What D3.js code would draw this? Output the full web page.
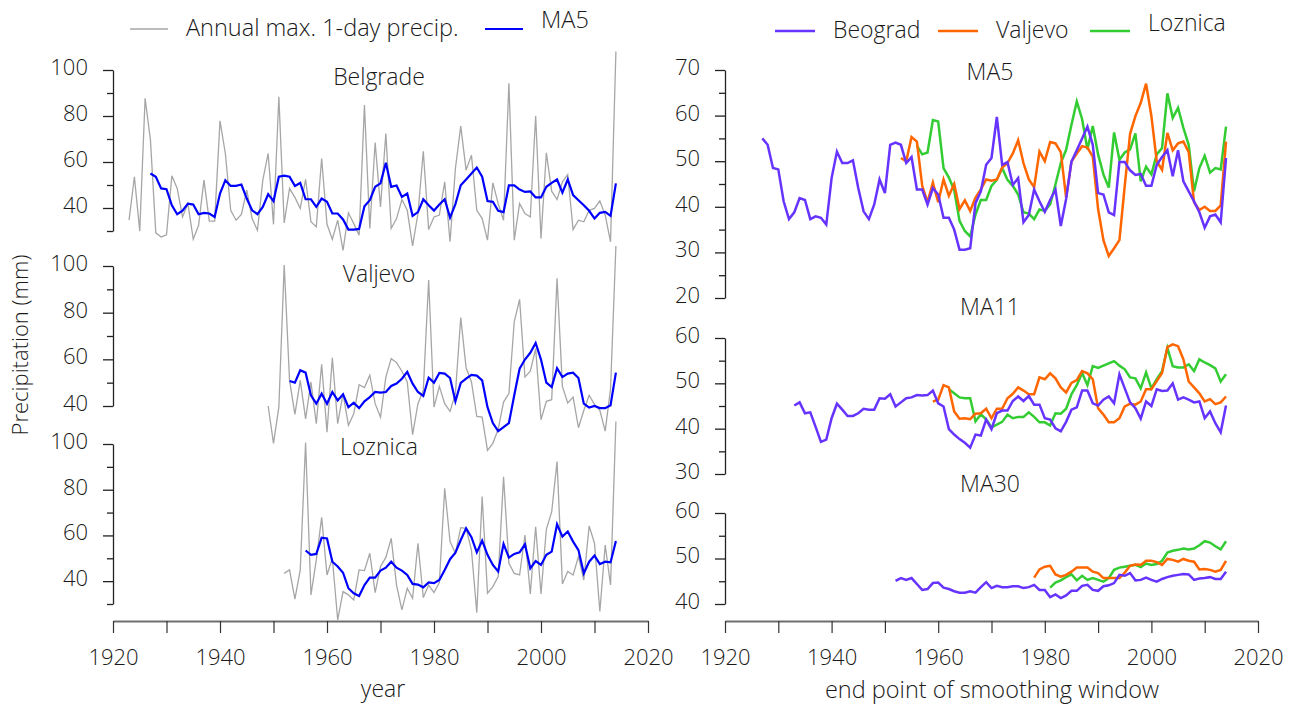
<!DOCTYPE html>
<html>
<head>
<meta charset="utf-8">
<script src="https://cdn.jsdelivr.net/npm/d3@7"></script>
<style>
  body { margin: 0; background: #fff; }
  text { font-family: "Open Sans", "Noto Sans", sans-serif; font-weight: 300; fill: #1a1a1a; }
</style>
</head>
<body>
<div id="chart"></div>
<script>
// --- data: annual maximum 1-day precipitation (mm) and moving averages
const belgradeStart = 1923;
const belgradeAnnual = [34.7, 53.6, 29.9, 87.7, 69.5, 29.2, 27.4, 28.3, 54.0, 48.5,
  36.1, 41.9, 26.4, 32.5, 52.1, 34.3, 34.3, 77.9, 63.7, 39.0,
  34.7, 37.2, 47.8, 35.4, 30.3, 52.1, 63.7, 32.9, 88.4, 33.5,
  48.5, 44.6, 39.8, 52.5, 34.0, 31.8, 61.5, 32.9, 26.4, 34.7,
  21.6, 37.9, 33.2, 28.2, 84.8, 31.1, 68.5, 40.5, 72.4, 31.1,
  35.4, 43.7, 39.0, 23.5, 37.6, 64.7, 30.6, 36.1, 36.9, 51.4,
  25.3, 57.2, 75.6, 56.5, 63.0, 39.0, 35.4, 26.0, 50.9, 41.9,
  34.7, 94.2, 26.0, 41.9, 37.6, 36.1, 80.1, 26.7, 64.0, 47.3,
  43.7, 51.4, 54.6, 30.6, 34.7, 34.0, 39.0, 39.8, 43.1, 36.9,
  25.3, 108.0];
const belgradeMA5Start = 1927;
const belgradeMA5 = [55.0, 53.6, 48.5, 48.2, 41.2, 37.3, 38.8, 41.9, 41.5, 37.3,
  37.9, 37.6, 36.1, 46.3, 52.1, 49.6, 49.6, 50.2, 44.1, 39.0,
  37.3, 40.5, 46.0, 43.0, 53.6, 54.1, 53.6, 49.6, 50.9, 43.8,
  43.8, 40.5, 44.1, 42.7, 37.6, 37.6, 35.0, 30.6, 30.6, 30.9,
  40.8, 43.4, 49.2, 50.7, 59.7, 49.2, 49.8, 44.8, 46.3, 36.6,
  38.2, 43.8, 41.2, 38.9, 41.5, 43.8, 35.8, 41.7, 49.9, 52.4,
  55.0, 57.6, 53.6, 43.0, 42.7, 38.8, 38.2, 49.8, 49.8, 48.0,
  47.0, 47.2, 44.6, 44.6, 49.2, 50.9, 52.4, 46.7, 52.4, 45.6,
  43.4, 41.2, 38.8, 35.4, 37.9, 38.3, 36.6, 50.7];

const valjevoStart = 1949;
const valjevoAnnual = [40.0, 24.0, 39.5, 100.4, 51.0, 36.4, 51.0, 34.5, 50.3, 32.4,
  57.9, 28.8, 60.7, 32.4, 45.3, 31.7, 36.7, 49.1, 47.9, 53.2,
  41.0, 35.2, 52.4, 60.3, 58.6, 54.9, 50.3, 27.7, 41.0, 46.7,
  94.0, 39.5, 48.4, 41.0, 37.7, 45.3, 77.9, 56.4, 50.3, 35.5,
  35.2, 21.0, 24.0, 30.0, 41.7, 45.3, 76.1, 85.7, 52.4, 54.9,
  64.6, 34.1, 42.0, 42.7, 94.7, 48.4, 41.3, 43.8, 30.7, 38.1,
  44.6, 40.7, 38.1, 29.2, 47.4, 108.6];
const valjevoMA5Start = 1953;
const valjevoMA5 = [50.7, 50.0, 55.3, 54.3, 44.6, 41.0, 45.3, 41.0, 46.0, 42.4,
  45.0, 39.5, 41.4, 39.1, 42.0, 43.8, 46.0, 45.7, 46.0, 48.6,
  49.6, 51.7, 54.6, 49.6, 46.0, 44.3, 52.1, 50.0, 54.2, 53.9,
  52.0, 42.0, 49.9, 51.7, 53.3, 53.0, 51.0, 39.5, 32.7, 29.2,
  30.9, 32.7, 44.6, 56.0, 59.9, 62.8, 67.0, 59.9, 50.0, 48.1,
  56.2, 52.4, 53.9, 54.3, 52.0, 41.0, 39.3, 40.0, 39.1, 39.1,
  40.3, 54.3];

const loznicaStart = 1952;
const loznicaAnnual = [43.4, 44.9, 32.1, 44.9, 100.6, 34.0, 49.3, 67.9, 42.7, 50.0,
  23.0, 35.4, 34.0, 31.8, 44.9, 44.6, 52.2, 35.0, 46.4, 50.4,
  58.7, 38.3, 27.4, 36.9, 32.5, 56.6, 32.8, 38.3, 35.0, 39.4,
  80.6, 57.3, 52.2, 63.4, 63.1, 53.6, 26.2, 77.0, 34.7, 37.6,
  42.0, 85.7, 47.8, 43.4, 42.7, 60.2, 34.4, 63.8, 34.4, 62.7,
  70.4, 92.3, 38.8, 44.2, 42.7, 50.7, 40.5, 64.1, 56.6, 26.7,
  55.8, 38.3, 109.8];
const loznicaMA5Start = 1956;
const loznicaMA5 = [53.4, 51.5, 51.9, 59.0, 58.7, 48.5, 46.4, 43.7, 36.9, 34.7,
  33.5, 38.3, 41.5, 41.5, 44.6, 45.9, 48.5, 45.9, 44.6, 42.7,
  38.8, 38.5, 37.3, 39.4, 39.1, 40.5, 44.9, 49.6, 52.5, 58.0,
  63.1, 59.2, 52.6, 57.7, 51.5, 47.1, 44.2, 56.3, 50.3, 51.9,
  52.6, 56.1, 45.6, 48.8, 47.1, 51.5, 52.9, 64.9, 59.5, 61.7,
  57.3, 53.6, 43.4, 48.5, 51.2, 47.5, 48.5, 48.2, 57.6];

const beogradMA11Start = 1933;
const beogradMA11 = [45.1, 45.8, 43.4, 43.6, 40.4, 37.1, 37.6, 42.3, 45.5, 44.2,
  42.8, 42.8, 43.4, 44.4, 44.2, 44.2, 46.7, 46.6, 47.6, 44.9,
  45.8, 46.7, 46.9, 47.4, 47.3, 47.4, 48.4, 45.6, 44.9, 39.9,
  38.7, 37.7, 36.9, 35.8, 38.7, 38.5, 42.0, 39.9, 43.4, 44.0,
  44.0, 46.1, 47.1, 46.1, 47.2, 45.3, 45.3, 42.3, 42.0, 40.1,
  39.4, 41.5, 44.2, 44.7, 48.4, 48.4, 45.6, 45.1, 46.4, 47.1,
  45.6, 52.0, 48.9, 45.8, 44.5, 42.2, 46.0, 45.0, 48.7, 48.3,
  48.4, 50.0, 46.4, 46.9, 46.4, 45.8, 46.0, 42.3, 43.8, 41.2,
  39.2, 45.1];
const valjevoMA11Start = 1959;
const valjevoMA11 = [46.0, 46.4, 49.6, 49.1, 43.8, 42.2, 42.3, 42.1, 43.3, 43.4,
  44.4, 42.3, 44.4, 44.4, 46.7, 47.7, 49.1, 48.4, 47.6, 47.6,
  51.3, 50.9, 52.2, 51.1, 49.1, 48.0, 50.1, 50.7, 52.7, 52.2,
  50.9, 44.5, 43.1, 41.4, 41.4, 42.3, 44.9, 45.5, 45.3, 46.0,
  48.7, 48.7, 50.5, 52.3, 58.0, 58.6, 58.2, 55.3, 50.4, 49.1,
  47.8, 46.0, 46.5, 45.4, 45.8, 47.1];
const loznicaMA11Start = 1962;
const loznicaMA11 = [48.7, 47.8, 46.9, 46.7, 46.7, 41.6, 43.2, 42.0, 40.3, 40.9,
  41.5, 43.1, 42.3, 42.6, 42.6, 43.6, 42.6, 41.4, 41.4, 40.7,
  43.4, 43.3, 44.4, 47.6, 49.6, 52.3, 49.6, 53.8, 53.4, 53.9,
  54.4, 54.9, 53.9, 53.1, 51.3, 51.1, 48.9, 52.4, 48.9, 50.9,
  52.7, 57.8, 53.8, 53.5, 53.5, 54.2, 52.7, 55.3, 54.6, 54.0,
  53.3, 50.4, 52.0];

const beogradMA30Start = 1952;
const beogradMA30 = [45.1, 45.7, 45.3, 45.7, 44.4, 43.1, 43.3, 44.6, 44.7, 43.6,
  43.3, 42.8, 42.5, 42.5, 42.8, 42.5, 43.7, 44.8, 43.5, 44.0,
  43.7, 43.7, 43.9, 43.9, 43.5, 43.7, 44.2, 43.1, 43.1, 41.5,
  42.1, 41.3, 41.9, 42.9, 42.9, 44.0, 44.2, 43.1, 42.9, 43.9,
  44.1, 44.6, 46.4, 46.2, 46.8, 45.2, 45.3, 45.8, 45.3, 44.9,
  45.5, 45.9, 46.2, 46.4, 46.6, 46.5, 45.3, 45.6, 45.7, 45.9,
  45.5, 45.5, 47.1];
const valjevoMA30Start = 1978;
const valjevoMA30 = [45.8, 47.6, 48.2, 48.4, 46.5, 46.0, 46.4, 47.1, 48.0, 48.0,
  48.0, 47.1, 46.8, 45.7, 45.7, 45.7, 45.7, 46.9, 48.4, 48.7,
  48.6, 49.5, 49.5, 49.2, 48.6, 49.9, 49.7, 49.3, 49.9, 49.5,
  49.3, 47.6, 47.7, 47.5, 47.1, 47.5, 49.5];
const loznicaMA30Start = 1981;
const loznicaMA30 = [43.6, 44.7, 45.2, 45.9, 46.5, 45.2, 46.2, 45.3, 45.7, 45.3,
  44.9, 45.7, 47.5, 48.0, 48.2, 48.4, 48.6, 48.1, 48.9, 48.6,
  48.8, 49.5, 51.3, 51.7, 51.9, 52.2, 52.0, 52.2, 52.9, 53.8,
  53.5, 52.7, 52.0, 53.8];

const yearTicks = [1920, 1930, 1940, 1950, 1960, 1970, 1980, 1990, 2000, 2010, 2020];
const stationNames = ["Belgrade", "Valjevo", "Loznica"];
const seriesNames = ["Beograd", "Valjevo", "Loznica"];
const maNames = ["MA5", "MA11", "MA30"];

// --- styles
const width = 1298, height = 706;
const grayColor = "#a6a6a6";
const blueColor = "#0000ff";
const stationColors = ["#6633ff", "#ff6600", "#33cc33"];
const tickFont = 22;

const toPoints = (start, vals) => vals.map((v, i) => ({ year: start + i, v: v }));

const svg = d3.select("#chart").append("svg")
  .attr("width", width)
  .attr("height", height)
  .attr("viewBox", [0, 0, width, height]);

const xLeft = d3.scaleLinear().domain([1920, 2020]).range([113, 648]);
const xRight = d3.scaleLinear().domain([1920, 2020]).range([725, 1258]);

// left: one panel per station
const leftPanels = [
  { title: stationNames[0], domain: [30, 100], range: [231, 70], titleY: 77,
    annual: toPoints(belgradeStart, belgradeAnnual), ma: toPoints(belgradeMA5Start, belgradeMA5) },
  { title: stationNames[1], domain: [40, 100], range: [406, 266], titleY: 274,
    annual: toPoints(valjevoStart, valjevoAnnual), ma: toPoints(valjevoMA5Start, valjevoMA5) },
  { title: stationNames[2], domain: [30, 100], range: [604, 444], titleY: 447,
    annual: toPoints(loznicaStart, loznicaAnnual), ma: toPoints(loznicaMA5Start, loznicaMA5) }
];

// right: one panel per smoothing window
const rightPanels = [
  { title: maNames[0], domain: [20, 70], range: [298, 70], titleY: 72,
    series: [toPoints(belgradeMA5Start, belgradeMA5), toPoints(valjevoMA5Start, valjevoMA5), toPoints(loznicaMA5Start, loznicaMA5)] },
  { title: maNames[1], domain: [30, 60], range: [474, 338], titleY: 307,
    series: [toPoints(beogradMA11Start, beogradMA11), toPoints(valjevoMA11Start, valjevoMA11), toPoints(loznicaMA11Start, loznicaMA11)] },
  { title: maNames[2], domain: [40, 60], range: [604, 513], titleY: 484,
    series: [toPoints(beogradMA30Start, beogradMA30), toPoints(valjevoMA30Start, valjevoMA30), toPoints(loznicaMA30Start, loznicaMA30)] }
];

function drawYAxis(xPos, y, step, labelStep) {
  const [lo, hi] = y.domain();
  const vals = d3.range(lo, hi + 0.001, step);
  const g = svg.append("g")
    .attr("transform", `translate(${xPos},0)`)
    .call(d3.axisLeft(y)
      .tickValues(vals)
      .tickSize(10)
      .tickSizeOuter(0)
      .tickPadding(15)
      .tickFormat(d => (d % labelStep === 0 ? d : "")));
  g.select(".domain").attr("stroke", "#222").attr("stroke-width", 1.3);
  g.selectAll(".tick line")
    .attr("stroke", "#222")
    .attr("stroke-width", 1.3)
    .attr("x2", d => (d % labelStep === 0 ? -10 : -6));
  g.selectAll(".tick text")
    .attr("font-size", tickFont)
    .attr("dy", "0.2em")
    .style("font-family", '"Open Sans", sans-serif')
    .style("font-weight", 300)
    .attr("fill", "#1a1a1a");
}

function drawXAxis(x, yPos) {
  const g = svg.append("g")
    .attr("transform", `translate(0,${yPos})`)
    .call(d3.axisBottom(x)
      .tickValues(yearTicks)
      .tickSize(12)
      .tickSizeOuter(0)
      .tickPadding(16)
      .tickFormat(d => (d % 20 === 0 ? d : "")));
  g.select(".domain").attr("stroke", "#6e6e6e").attr("stroke-width", 2.2);
  g.selectAll(".tick line").attr("stroke", "#333").attr("stroke-width", 1.2);
  g.selectAll(".tick text")
    .attr("font-size", tickFont)
    .style("font-family", '"Open Sans", sans-serif')
    .style("font-weight", 300)
    .attr("fill", "#1a1a1a");
}

leftPanels.forEach(p => {
  const y = d3.scaleLinear().domain(p.domain).range(p.range);
  drawYAxis(113, y, 10, 20);
  const line = d3.line().x(d => xLeft(d.year)).y(d => y(d.v));
  svg.append("path")
    .datum(p.annual)
    .attr("fill", "none")
    .attr("stroke", grayColor)
    .attr("stroke-width", 1.3)
    .attr("d", line);
  svg.append("path")
    .datum(p.ma)
    .attr("fill", "none")
    .attr("stroke", blueColor)
    .attr("stroke-width", 2.2)
    .attr("d", line);
  svg.append("text")
    .attr("x", 379).attr("y", p.titleY)
    .attr("dy", "0.35em")
    .attr("text-anchor", "middle")
    .attr("font-size", 23)
    .text(p.title);
});

rightPanels.forEach(p => {
  const y = d3.scaleLinear().domain(p.domain).range(p.range);
  drawYAxis(725, y, 5, 10);
  const line = d3.line().x(d => xRight(d.year)).y(d => y(d.v));
  // green first so purple sits on top
  [2, 1, 0].forEach(i => {
    svg.append("path")
      .datum(p.series[i])
      .attr("fill", "none")
      .attr("stroke", stationColors[i])
      .attr("stroke-width", 2.5)
      .attr("d", line);
  });
  svg.append("text")
    .attr("x", 990).attr("y", p.titleY)
    .attr("dy", "0.35em")
    .attr("text-anchor", "middle")
    .attr("font-size", 23)
    .text(p.title);
});

drawXAxis(xLeft, 621);
drawXAxis(xRight, 621);

// axis titles
svg.append("text")
  .attr("transform", "translate(20,345) rotate(-90)")
  .attr("dy", "0.35em")
  .attr("text-anchor", "middle")
  .attr("font-size", 22)
  .text("Precipitation (mm)");
svg.append("text")
  .attr("x", 383).attr("y", 689)
  .attr("dy", "0.35em")
  .attr("text-anchor", "middle")
  .attr("font-size", 23)
  .text("year");
svg.append("text")
  .attr("x", 992).attr("y", 690)
  .attr("dy", "0.35em")
  .attr("text-anchor", "middle")
  .attr("font-size", 23.5)
  .text("end point of smoothing window");

// legends
const leftLegend = [
  { label: "Annual max. 1-day precip.", color: grayColor, w: 1.3, x: 130, ty: 28 },
  { label: "MA5", color: blueColor, w: 2.2, x: 485, ty: 20 }
];
leftLegend.forEach(d => {
  svg.append("line")
    .attr("x1", d.x).attr("x2", d.x + 38)
    .attr("y1", 29).attr("y2", 29)
    .attr("stroke", d.color).attr("stroke-width", d.w);
  svg.append("text")
    .attr("x", d.x + 56).attr("y", d.ty)
    .attr("dy", "0.35em")
    .attr("font-size", 23.5)
    .text(d.label);
});

const rightLegendX = [775, 938, 1090];
const rightLegendTy = [30, 30, 23];
seriesNames.forEach((name, i) => {
  svg.append("line")
    .attr("x1", rightLegendX[i]).attr("x2", rightLegendX[i] + 40)
    .attr("y1", 31).attr("y2", 31)
    .attr("stroke", stationColors[i]).attr("stroke-width", 2.5);
  svg.append("text")
    .attr("x", rightLegendX[i] + 58).attr("y", rightLegendTy[i])
    .attr("dy", "0.35em")
    .attr("font-size", 23)
    .text(name);
});
</script>
</body>
</html>
